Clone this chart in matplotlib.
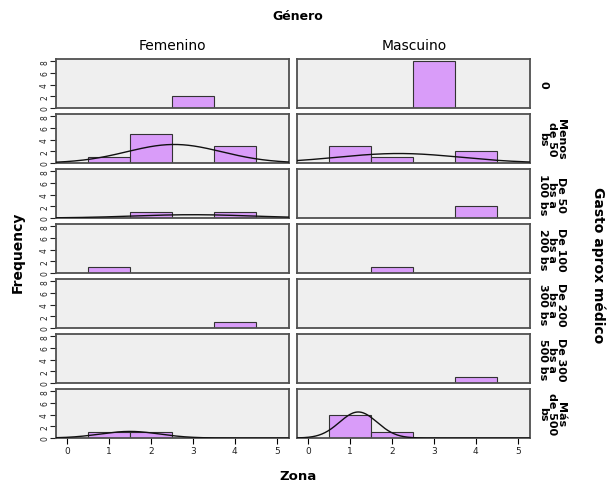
import numpy as np
import matplotlib
matplotlib.use("Agg")
import matplotlib.pyplot as plt

zones = [1, 2, 3, 4]
row_labels = ["0", "Menos\nde 50\nbs", "De 50\nbs a\n100 bs", "De 100\nbs a\n200 bs",
              "De 200\nbs a\n300 bs", "De 300\nbs a\n500 bs", "Más\nde 500\nbs"]
col_labels = ["Femenino", "Mascuino"]
femenino = [[0, 0, 2, 0], [1, 5, 0, 3], [0, 1, 0, 1], [1, 0, 0, 0],
            [0, 0, 0, 1], [0, 0, 0, 0], [1, 1, 0, 0]]
masculino = [[0, 0, 8, 0], [3, 1, 0, 2], [0, 0, 0, 2], [0, 1, 0, 0],
             [0, 0, 0, 0], [0, 0, 0, 1], [4, 1, 0, 0]]
x_ticks = [0, 1, 2, 3, 4, 5]
y_ticks = [0, 2, 4, 6, 8]

W, H = 609, 485
fig = plt.figure(figsize=(W / 100, H / 100), dpi=100)

bar_color = "#d99cf9"
bg = "#efefef"
frame = "#505050"

col_left = [56, 297]
panel_w = 233
top0 = 60
pitch = 55
panel_h = 49
xlim = (-0.26, 5.29)
ylim = (0, 8.4)

for ci, data in enumerate([femenino, masculino]):
    for ri, counts in enumerate(data):
        top = top0 + pitch * ri
        ax = fig.add_axes([col_left[ci] / W, 1 - (top + panel_h) / H, panel_w / W, panel_h / H])
        ax.set_facecolor(bg)
        ax.set_xlim(*xlim)
        ax.set_ylim(*ylim)
        for s in ax.spines.values():
            s.set_color(frame)
            s.set_linewidth(1.3)
        ax.bar(zones, counts, width=1.0, color=bar_color, edgecolor="#333333", linewidth=0.8, zorder=2)
        # normal curve
        vals = np.repeat(zones, counts)
        if len(vals) > 1 and np.std(vals, ddof=1) > 0:
            m = vals.mean()
            sd = vals.std(ddof=1)
            xs = np.linspace(xlim[0], xlim[1], 300)
            ys = len(vals) * 1.0 / (sd * np.sqrt(2 * np.pi)) * np.exp(-0.5 * ((xs - m) / sd) ** 2)
            ax.plot(xs, ys, color="#111111", linewidth=1.0, zorder=3)
        if ci == 0:
            ax.set_yticks(y_ticks)
            ax.set_yticklabels([str(v) for v in y_ticks], rotation=90, va="center", fontsize=5.5, color="#222222")
            ax.tick_params(axis="y", length=4, width=0.8, pad=1, colors="#222222")
        else:
            ax.set_yticks([])
        if ri == len(data) - 1:
            ax.set_xticks(x_ticks)
            ax.set_xticklabels([str(v) for v in x_ticks], fontsize=6.5, color="#222222")
            ax.tick_params(axis="x", length=4, width=0.8, pad=2)
        else:
            ax.set_xticks([])
        if ci == 1:
            ax.text(1.035, 0.5, row_labels[ri], transform=ax.transAxes, rotation=270,
                    ha="left", va="center", fontsize=8, fontweight="bold",
                    linespacing=0.85, multialignment="center")

fig.text(298 / W, 1 - 17 / H, "Género", ha="center", va="center", fontsize=9, fontweight="bold")
fig.text(172 / W, 1 - 46 / H, col_labels[0], ha="center", va="center", fontsize=10, fontweight="medium")
fig.text(414 / W, 1 - 46 / H, col_labels[1], ha="center", va="center", fontsize=10, fontweight="medium")
fig.text(598 / W, 1 - 265 / H, "Gasto aprox médico", ha="center", va="center", rotation=270,
         fontsize=10, fontweight="bold")
fig.text(18 / W, 1 - 252 / H, "Frequency", ha="center", va="center", rotation=90,
         fontsize=10, fontweight="bold")
fig.text(298 / W, 1 - 477 / H, "Zona", ha="center", va="center", fontsize=9.5, fontweight="bold")

fig.savefig("out.png", dpi=100)
